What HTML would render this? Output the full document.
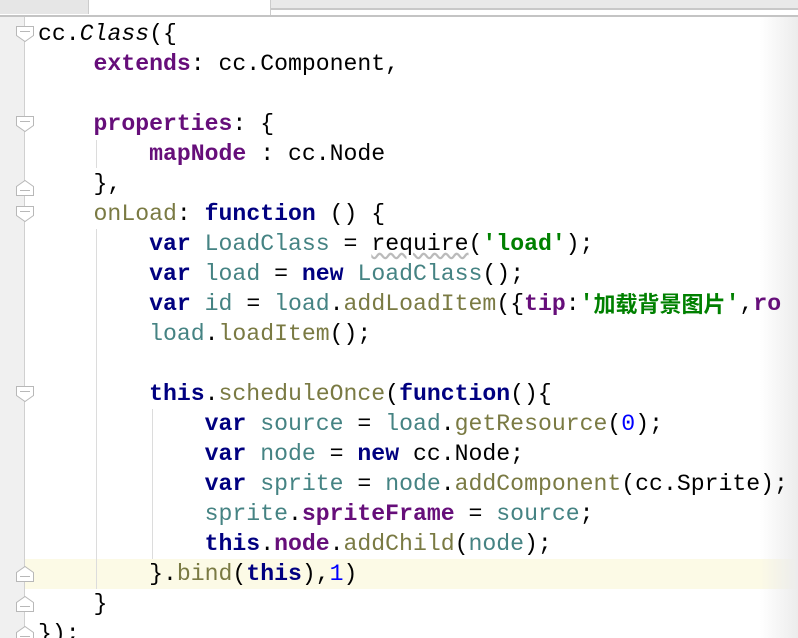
<!DOCTYPE html>
<html><head><meta charset="utf-8"><style>
html,body{margin:0;padding:0;width:798px;height:638px;overflow:hidden;background:#fff;position:relative}
.l{position:absolute;left:38px;height:30px;line-height:30px;white-space:pre;font-family:"Liberation Mono","Noto Sans CJK SC",monospace;font-size:23.15px;color:#000;overflow:visible}
.k{color:#000080;font-weight:bold}
.p{color:#660e7a;font-weight:bold}
.v{color:#458383}
.f{color:#7a7a43}
.s{color:#008000;font-weight:bold}
.n{color:#0000ff}
.i{font-style:italic}
.cjk{font-family:"Noto Sans CJK SC",sans-serif;font-size:22px;line-height:1;display:inline-block;vertical-align:-2px}
.g{position:absolute;width:1px;background:#dcdcdc}
</style></head><body>
<div style="position:absolute;left:0;top:0;width:798px;height:9px;background:#e9e9e9"></div>
<div style="position:absolute;left:0;top:0;width:88px;height:14px;background:#e6e6e6;border-right:1px solid #ccc"></div>
<div style="position:absolute;left:89px;top:0;width:181px;height:15px;background:#fff"></div>
<div style="position:absolute;left:270px;top:0;width:1px;height:15px;background:#ccc"></div>
<div style="position:absolute;left:271px;top:8px;width:527px;height:2px;background:#c8c8c8"></div>
<div style="position:absolute;left:0;top:15px;width:798px;height:2px;background:#c4c4c4"></div>
<div style="position:absolute;left:0;top:17px;width:24px;height:621px;background:#f0f0f0"></div>
<div style="position:absolute;left:24px;top:17px;width:1px;height:621px;background:#d0d0d0"></div>
<div style="position:absolute;left:25px;top:559px;width:773px;height:30px;background:#fcfae6"></div>
<div class="g" style="left:96px;top:140px;height:28px"></div>
<div class="g" style="left:96px;top:229px;height:360px"></div>
<div class="g" style="left:152px;top:409px;height:150px"></div>
<svg width="40" height="638" style="position:absolute;left:0;top:0">
<g fill="#fff" stroke="#b8b8b8" stroke-width="1">
<path d="M16.5 26.5h17v9l-8.5 6l-8.5-6z"/><path d="M20 31.5h10"/>
<path d="M16.5 116.5h17v9l-8.5 6l-8.5-6z"/><path d="M20 121.5h10"/>
<path d="M16.5 195.5h17v-9l-8.5-6l-8.5 6z"/><path d="M20 190.5h10"/>
<path d="M16.5 206.5h17v9l-8.5 6l-8.5-6z"/><path d="M20 211.5h10"/>
<path d="M16.5 386.5h17v9l-8.5 6l-8.5-6z"/><path d="M20 391.5h10"/>
<path d="M16.5 581.5h17v-9l-8.5-6l-8.5 6z"/><path d="M20 576.5h10"/>
<path d="M16.5 611.5h17v-9l-8.5-6l-8.5 6z"/><path d="M20 606.5h10"/>
<path d="M16.5 641.5h17v-9l-8.5-6l-8.5 6z"/><path d="M20 636.5h10"/>
</g></svg>
<div style="position:absolute;left:760px;top:17px;width:38px;height:621px;background:linear-gradient(to right,rgba(240,240,240,0),#ececec)"></div>
<div class="l" style="top:19px">cc.<span class="i">Class</span>({</div>
<div class="l" style="top:49px">    <span class="p">extends</span>: cc.Component,</div>
<div class="l" style="top:109px">    <span class="p">properties</span>: {</div>
<div class="l" style="top:139px">        <span class="p">mapNode</span> : cc.Node</div>
<div class="l" style="top:169px">    },</div>
<div class="l" style="top:199px">    <span class="f">onLoad</span>: <span class="k">function</span> () {</div>
<div class="l" style="top:229px">        <span class="k">var</span> <span class="v">LoadClass</span> = <span style="text-decoration:underline wavy #bbb">require</span>(<span class="s">'load'</span>);</div>
<div class="l" style="top:259px">        <span class="k">var</span> <span class="v">load</span> = <span class="k">new</span> <span class="v">LoadClass</span>();</div>
<div class="l" style="top:289px">        <span class="k">var</span> <span class="v">id</span> = <span class="v">load</span>.<span class="f">addLoadItem</span>({<span class="p">tip</span>:<span class="s">'<span class="cjk">加载背景图片</span>'</span>,<span class="p">ro</span></div>
<div class="l" style="top:319px">        <span class="v">load</span>.<span class="f">loadItem</span>();</div>
<div class="l" style="top:379px">        <span class="k">this</span>.<span class="f">scheduleOnce</span>(<span class="k">function</span>(){</div>
<div class="l" style="top:409px">            <span class="k">var</span> <span class="v">source</span> = <span class="v">load</span>.<span class="f">getResource</span>(<span class="n">0</span>);</div>
<div class="l" style="top:439px">            <span class="k">var</span> <span class="v">node</span> = <span class="k">new</span> cc.Node;</div>
<div class="l" style="top:469px">            <span class="k">var</span> <span class="v">sprite</span> = <span class="v">node</span>.<span class="f">addComponent</span>(cc.Sprite);</div>
<div class="l" style="top:499px">            <span class="v">sprite</span>.<span class="p">spriteFrame</span> = <span class="v">source</span>;</div>
<div class="l" style="top:529px">            <span class="k">this</span>.<span class="p">node</span>.<span class="f">addChild</span>(<span class="v">node</span>);</div>
<div class="l" style="top:559px">        }.<span class="f">bind</span>(<span class="k">this</span>),<span class="n">1</span>)</div>
<div class="l" style="top:589px">    }</div>
<div class="l" style="top:619px">});</div>
</body></html>
